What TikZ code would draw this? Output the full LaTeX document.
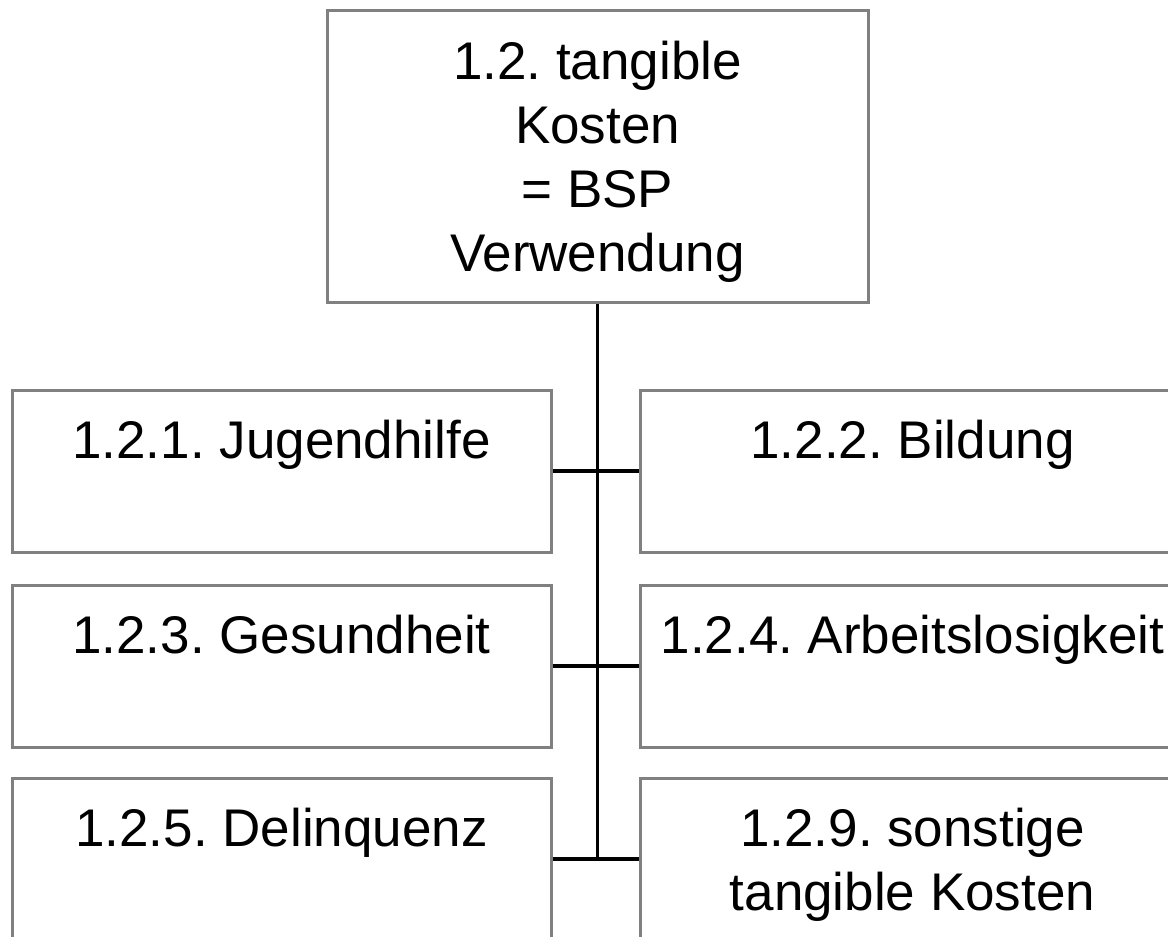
\documentclass[tikz,border=0pt]{standalone}
\usepackage{fontspec}
\setmainfont{Liberation Sans}
\frenchspacing
\newcommand\mystrut{\rule[-13pt]{0pt}{64pt}}
\begin{document}
\begin{tikzpicture}[x=1pt,y=-1pt,
  box/.style={draw=boxgray, line width=3pt, inner sep=0pt, align=center,
    font=\fontsize{53}{64}\selectfont\frenchspacing},
  lbox/.style={box, minimum width=539pt, minimum height=162pt},
  rbox/.style={box, minimum width=545pt, minimum height=162pt},
  conn/.style={draw=black, line width=3.5pt}]
\definecolor{boxgray}{HTML}{808080}
\useasboundingbox (0,0) rectangle (1168,937);
\clip (0,0) rectangle (1168,937);
\node[box, minimum width=541pt, minimum height=292pt] (top) at (597.5,156)
  {\mystrut 1.2. tangible\\\mystrut Kosten\\\mystrut = BSP\\\mystrut Verwendung};
\node[lbox] (a1) at (281.5,471) {\mystrut 1.2.1. Jugendhilfe\\\mystrut};
\node[rbox] (b1) at (912.5,471) {\mystrut 1.2.2. Bildung\\\mystrut};
\node[lbox] (a2) at (281.5,666) {\mystrut 1.2.3. Gesundheit\\\mystrut};
\node[rbox] (b2) at (912.5,666) {\mystrut 1.2.4. Arbeitslosigkeit\\\mystrut};
\node[lbox] (a3) at (281.5,859) {\mystrut 1.2.5. Delinquenz\\\mystrut};
\node[rbox] (b3) at (912.5,859) {\mystrut 1.2.9. sonstige\\\mystrut tangible Kosten};
\coordinate (vend) at (top.south |- a3.east);
\draw[conn] (top.south) -- (vend);
\draw[conn] (a1.east) -- (b1.west);
\draw[conn] (a2.east) -- (b2.west);
\draw[conn] (a3.east) -- (b3.west);
\end{tikzpicture}
\end{document}
